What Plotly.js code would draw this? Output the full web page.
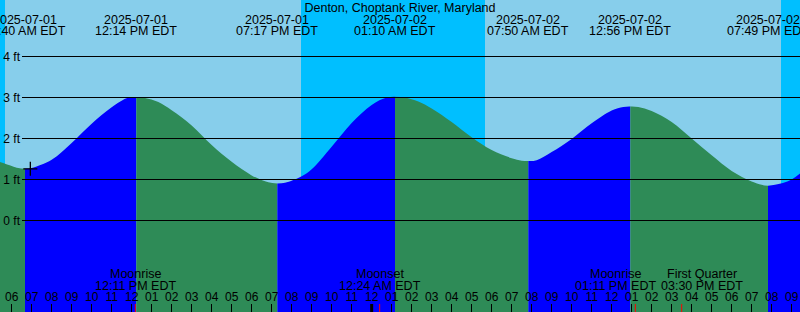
<!DOCTYPE html>
<html>
<head>
<meta charset="utf-8">
<script src="https://cdn.plot.ly/plotly-3.0.1.min.js"></script>
<style>
html, body { margin: 0; padding: 0; background: #87CEEB; overflow: hidden; }
#chart { width: 800px; height: 312px; }
</style>
</head>
<body>
<div id="chart"></div>
<script>
// ---------------- data ----------------
const chartTitle = 'Denton, Choptank River, Maryland';

const tideTimes = [
  '2025-07-01 05:00', '2025-07-01 06:00', '2025-07-01 06:20', '2025-07-01 06:40',
  '2025-07-01 07:00', '2025-07-01 08:00', '2025-07-01 09:00', '2025-07-01 10:00',
  '2025-07-01 11:00', '2025-07-01 11:50', '2025-07-01 12:14', '2025-07-01 12:40',
  '2025-07-01 13:20', '2025-07-01 14:00', '2025-07-01 15:00', '2025-07-01 16:00',
  '2025-07-01 17:00', '2025-07-01 18:00', '2025-07-01 18:50', '2025-07-01 19:17',
  '2025-07-01 19:40', '2025-07-01 20:30', '2025-07-01 21:00', '2025-07-01 22:00',
  '2025-07-01 23:00', '2025-07-02 00:00', '2025-07-02 00:45', '2025-07-02 01:10',
  '2025-07-02 01:40', '2025-07-02 02:20', '2025-07-02 03:00', '2025-07-02 04:00',
  '2025-07-02 05:00', '2025-07-02 06:00', '2025-07-02 07:00', '2025-07-02 07:30',
  '2025-07-02 07:50', '2025-07-02 08:15', '2025-07-02 09:00', '2025-07-02 10:00',
  '2025-07-02 11:00', '2025-07-02 12:00', '2025-07-02 12:35', '2025-07-02 12:56',
  '2025-07-02 13:20', '2025-07-02 14:00', '2025-07-02 15:00', '2025-07-02 16:00',
  '2025-07-02 17:00', '2025-07-02 18:00', '2025-07-02 19:00', '2025-07-02 19:30',
  '2025-07-02 19:49', '2025-07-02 20:10', '2025-07-02 21:00', '2025-07-02 22:00'
];
const tideFeet = [
  1.50, 1.33, 1.28, 1.26,
  1.28, 1.48, 1.89, 2.36,
  2.76, 3.00, 3.01, 2.99,
  2.89, 2.69, 2.32, 1.84,
  1.43, 1.10, 0.93, 0.90,
  0.92, 1.08, 1.25, 1.80,
  2.38, 2.82, 3.00, 3.02,
  3.00, 2.90, 2.73, 2.40,
  2.03, 1.72, 1.52, 1.46,
  1.45, 1.47, 1.67, 1.99,
  2.37, 2.68, 2.77, 2.78,
  2.77, 2.67, 2.40, 2.00,
  1.59, 1.21, 0.95, 0.87,
  0.85, 0.87, 1.00, 1.40
];

const extremeTimes = [
  '2025-07-01 06:40', '2025-07-01 12:14', '2025-07-01 19:17', '2025-07-02 01:10',
  '2025-07-02 07:50', '2025-07-02 12:56', '2025-07-02 19:49'
];

const moonTimes = ['2025-07-01 12:11', '2025-07-02 00:24', '2025-07-02 13:11', '2025-07-02 15:30'];
const moonNames = ['Moonrise', 'Moonset', 'Moonrise', 'First Quarter'];

const nightStarts = ['2025-07-01 05:00', '2025-07-01 20:28', '2025-07-02 20:28'];
const nightEnds   = ['2025-07-01 05:40', '2025-07-02 05:40', '2025-07-02 22:00'];

const dayBoundaries = ['2025-07-02 00:00'];

const nowTime = ['2025-07-01 06:56'];
const nowFeet = [1.26];

const footTicks = [0, 1, 2, 3, 4];
const footLabels = ['0 ft', '1 ft', '2 ft', '3 ft', '4 ft'];

const xRange = ['2025-07-01 05:25', '2025-07-02 21:25'];

// ---------------- styles ----------------
const DAY = '#87CEEB', NIGHT = '#00BFFF', FLOOD = '#0000FF', EBB = '#2E8B57';
const FONT = 'Liberation Sans, Arial, Helvetica, sans-serif';
const W = 800, H = 312;
const LABEL_MIN_GAP = 86; // px needed between centres of neighbouring bottom labels

function fmtTime(t) {
  const hh = parseInt(t.slice(11, 13), 10);
  const mm = t.slice(14, 16);
  const ap = hh >= 12 ? 'PM' : 'AM';
  let h12 = hh % 12; if (h12 === 0) h12 = 12;
  return String(h12).padStart(2, '0') + ':' + mm + ' ' + ap + ' EDT';
}
function toMs(t) { return Date.parse(t.replace(' ', 'T') + ':00Z'); }

// ---------------- traces ----------------
const extremeSet = new Set(extremeTimes);
const segs = [];
let cur = { x: [], y: [] };
tideTimes.forEach((t, i) => {
  cur.x.push(t); cur.y.push(tideFeet[i]);
  if (extremeSet.has(t) && cur.x.length > 1) {
    segs.push(cur);
    cur = { x: [t], y: [tideFeet[i]] };
  }
});
if (cur.x.length > 1) segs.push(cur);

const traces = [];
segs.forEach(s => {
  const rising = s.y[s.y.length - 1] > s.y[0];
  traces.push({
    x: [s.x[0], s.x[s.x.length - 1]], y: [-3, -3],
    mode: 'lines', line: { width: 0 }, hoverinfo: 'skip', showlegend: false
  });
  traces.push({
    x: s.x, y: s.y, mode: 'lines',
    line: { width: 0, shape: 'spline', smoothing: 1 },
    fill: 'tonexty', fillcolor: rising ? FLOOD : EBB,
    hoverinfo: 'skip', showlegend: false
  });
});
traces.push({
  x: nowTime, y: nowFeet, mode: 'markers',
  marker: { symbol: 'cross-thin', size: 10, color: '#000', line: { color: '#000', width: 1.3 } },
  hoverinfo: 'skip', showlegend: false
});

// ---------------- shapes ----------------
const shapes = [];
nightStarts.forEach((s, i) => {
  shapes.push({ type: 'rect', xref: 'x', yref: 'paper', x0: s, x1: nightEnds[i], y0: 0, y1: 1,
    fillcolor: NIGHT, line: { width: 0 }, layer: 'below' });
});
footTicks.forEach(v => {
  shapes.push({ type: 'line', xref: 'paper', yref: 'y', x0: 22 / W, x1: 1, y0: v, y1: v,
    line: { color: '#000', width: 1 }, layer: 'above' });
});
dayBoundaries.forEach(t => {
  shapes.push({ type: 'line', xref: 'x', yref: 'paper', x0: t, x1: t, y0: 0, y1: 8 / H,
    line: { color: '#000', width: 3 }, layer: 'above' });
});
moonTimes.forEach(t => {
  shapes.push({ type: 'line', xref: 'x', yref: 'paper', x0: t, x1: t, y0: 0, y1: 8 / H,
    line: { color: '#FF0000', width: 1 }, layer: 'above' });
});

// ---------------- annotations ----------------
const annFont = { family: FONT, size: 12.5, color: '#000' };
const annotations = [];
extremeTimes.forEach(t => {
  annotations.push({ x: t, xref: 'x', y: 1 - 19.5 / H, yref: 'paper', text: t.slice(0, 10),
    showarrow: false, xanchor: 'center', yanchor: 'middle', font: annFont });
  annotations.push({ x: t, xref: 'x', y: 1 - 31.5 / H, yref: 'paper', text: fmtTime(t),
    showarrow: false, xanchor: 'center', yanchor: 'middle', font: annFont });
});

// push apart neighbouring moon labels that would collide
const pxPerMs = W / (toMs(xRange[1]) - toMs(xRange[0]));
const moonPx = moonTimes.map(t => toMs(t) * pxPerMs);
const moonShift = moonTimes.map(() => 0);
for (let i = 1; i < moonPx.length; i++) {
  const d = moonPx[i] - moonPx[i - 1];
  if (d < LABEL_MIN_GAP) {
    const half = (LABEL_MIN_GAP - d) / 2;
    moonShift[i - 1] -= half;
    moonShift[i] += half;
  }
}
moonTimes.forEach((t, i) => {
  annotations.push({ x: t, xref: 'x', xshift: moonShift[i], y: 1 - 273.8 / H, yref: 'paper', text: moonNames[i],
    showarrow: false, xanchor: 'center', yanchor: 'middle', font: annFont });
  annotations.push({ x: t, xref: 'x', xshift: moonShift[i], y: 1 - 285.5 / H, yref: 'paper', text: fmtTime(t),
    showarrow: false, xanchor: 'center', yanchor: 'middle', font: annFont });
});

// ---------------- layout ----------------
const layout = {
  width: W, height: H,
  margin: { l: 0, r: 0, t: 0, b: 0, pad: 0 },
  paper_bgcolor: DAY, plot_bgcolor: DAY,
  showlegend: false,
  title: { text: chartTitle, font: { family: FONT, size: 12.5, color: '#000' },
    x: 0.5, xanchor: 'center', xref: 'paper', y: 1 - 8 / H, yanchor: 'middle', yref: 'container' },
  xaxis: {
    type: 'date', range: xRange, dtick: 3600000, tick0: '2025-07-01 00:00', tickformat: '%I',
    ticks: 'inside', ticklen: 8, tickwidth: 1, tickcolor: '#000',
    ticklabelposition: 'inside', tickangle: 0,
    tickfont: { family: FONT, size: 12, color: '#000' },
    showgrid: false, zeroline: false, showline: false, fixedrange: true
  },
  yaxis: {
    range: [-91.5 / 41, 220.5 / 41], tickvals: footTicks, ticktext: footLabels,
    anchor: 'free', position: 22 / W, side: 'left',
    ticks: '', ticklabelposition: 'outside', ticklabelstandoff: 2,
    tickfont: { family: FONT, size: 12, color: '#000' },
    showgrid: false, zeroline: false, showline: false, fixedrange: true
  },
  shapes: shapes,
  annotations: annotations
};

Plotly.newPlot('chart', traces, layout, { staticPlot: true, displayModeBar: false });
</script>
</body>
</html>
